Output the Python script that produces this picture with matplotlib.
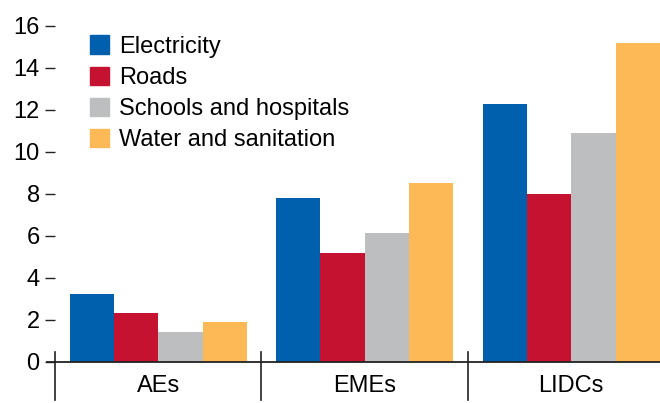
import numpy as np
import matplotlib
matplotlib.use("Agg")
import matplotlib.pyplot as plt
from matplotlib.patches import Patch

groups = ["AEs", "EMEs", "LIDCs"]
series = ["Electricity", "Roads", "Schools and hospitals", "Water and sanitation"]
electricity = [3.25, 7.8, 12.27]
roads = [2.35, 5.2, 8.0]
schools = [1.45, 6.15, 10.89]
water = [1.92, 8.52, 15.17]
colors = ["#0060ae", "#c41230", "#bcbec0", "#fdb955"]
yticks = [0, 2, 4, 6, 8, 10, 12, 14, 16]

plt.rcParams["font.family"] = ["Liberation Sans Narrow", "Liberation Sans", "DejaVu Sans"]

fig = plt.figure(figsize=(6.6, 4.03), dpi=100)
ax = fig.add_axes([55 / 660, 41 / 403, 1 - 55 / 660, 336 / 403])

x = np.arange(len(groups))
w = 0.2145
for i, (vals, c) in enumerate(zip([electricity, roads, schools, water], colors)):
    ax.bar(x + (i - 1.5) * w, vals, w, color=c, label=series[i], linewidth=0)

ax.set_xlim(-0.5, 2.43)
ax.set_ylim(0, 16)
ax.set_yticks(yticks)
ax.set_xticks(x)
ax.set_xticklabels(groups)

for s in ["top", "right", "left"]:
    ax.spines[s].set_visible(False)
ax.spines["bottom"].set_linewidth(1.3)
ax.spines["bottom"].set_color("#222222")
ax.spines["bottom"].set_bounds(-0.54, 2.43)

ax.tick_params(axis="y", length=7, width=1, pad=4, labelsize=17, color="#222222")
ax.tick_params(axis="x", length=0, pad=9, labelsize=17)

# group separators
for b in [-0.5, 0.5, 1.5]:
    ax.axvline(b, ymin=-38 / 336, ymax=10 / 336, color="#222222", lw=1.2, clip_on=False)

handles = [Patch(color=c, label=s) for c, s in zip(colors, series)]
ax.legend(handles=handles, loc="upper left", bbox_to_anchor=(0.042, 1.0),
          frameon=False, fontsize=17, handlelength=0.8, handleheight=0.8,
          handletextpad=0.45, labelspacing=0.38, borderaxespad=0)

fig.savefig("out.png", dpi=100)
